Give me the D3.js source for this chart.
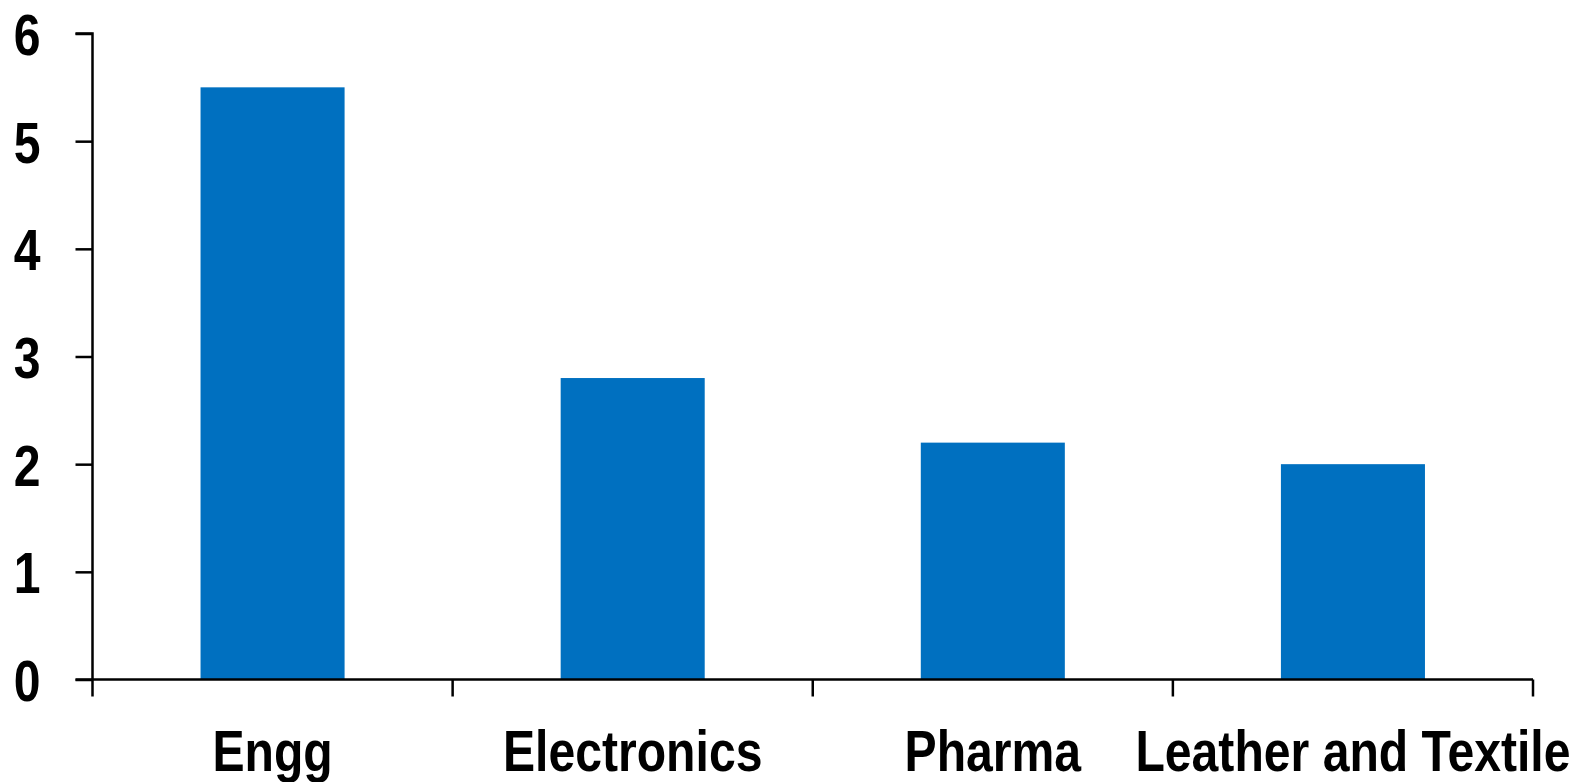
<!DOCTYPE html>
<html>
<head>
<meta charset="utf-8">
<script src="https://cdn.jsdelivr.net/npm/d3@7"></script>
<style>
  html, body { margin: 0; padding: 0; background: #fff; }
  svg { display: block; }
  .lbl { font-family: "Liberation Sans Narrow", "Arial Narrow", "Liberation Sans", Arial, sans-serif; font-weight: bold; fill: #000; }
</style>
</head>
<body>
<svg id="chart" width="1579" height="782"></svg>
<script>
// Sector values
const categories = ["Engg", "Electronics", "Pharma", "Leather and Textile"];
const values = [5.5, 2.8, 2.2, 2.0];
const yTicks = [0, 1, 2, 3, 4, 5, 6];

const W = 1579, H = 782;
const margin = { left: 92.5, right: 46, top: 33.5, bottom: 102.5 };
const fontSize = 58;
const narrow = 0.83;   // horizontal condensing for a narrow bold face
const svg = d3.select("#chart");

const x = d3.scaleBand()
  .domain(categories)
  .range([margin.left, W - margin.right])
  .paddingInner(0.6)
  .paddingOuter(0.3);

const y = d3.scaleLinear()
  .domain([0, 6])
  .range([H - margin.bottom, margin.top]);

// Bars
svg.append("g")
  .selectAll("rect")
  .data(values)
  .join("rect")
  .attr("x", (d, i) => x(categories[i]))
  .attr("width", x.bandwidth())
  .attr("y", d => y(d))
  .attr("height", d => y(0) - y(d))
  .attr("fill", "#0070C0");

// Y axis
const yAxis = svg.append("g")
  .attr("transform", `translate(${margin.left},0)`)
  .call(d3.axisLeft(y).tickValues(yTicks).tickSize(17).tickFormat(d3.format("d")));
yAxis.select(".domain").attr("stroke", "#000").attr("stroke-width", 2.5).attr("d", `M-17,${y(6)}H0V${y(0)}`);
yAxis.selectAll(".tick line").attr("stroke", "#000").attr("stroke-width", 2.5);
yAxis.selectAll(".tick text")
  .attr("class", "lbl")
  .attr("font-size", fontSize)
  .attr("x", 0)
  .attr("dy", "0.36em")
  .attr("transform", `translate(-52,0) scale(${narrow},1)`);

// X axis with boundary ticks between categories
const x0 = margin.left, x1 = W - margin.right;
const bandStep = (x1 - x0) / categories.length;
const boundaries = d3.range(categories.length + 1).map(i => x0 + i * bandStep);
const xg = svg.append("g");
xg.append("line")
  .attr("x1", x0 - 17).attr("x2", x1)
  .attr("y1", y(0)).attr("y2", y(0))
  .attr("stroke", "#000").attr("stroke-width", 2.5);
xg.selectAll("line.tk")
  .data(boundaries)
  .join("line")
  .attr("class", "tk")
  .attr("x1", d => d).attr("x2", d => d)
  .attr("y1", y(0)).attr("y2", y(0) + 17)
  .attr("stroke", "#000").attr("stroke-width", 2.5);

xg.selectAll("text")
  .data(categories)
  .join("text")
  .attr("class", "lbl")
  .attr("font-size", fontSize)
  .attr("text-anchor", "middle")
  .attr("transform", d => `translate(${x(d) + x.bandwidth() / 2},771) scale(${narrow},1)`)
  .text(d => d);
</script>
</body>
</html>
